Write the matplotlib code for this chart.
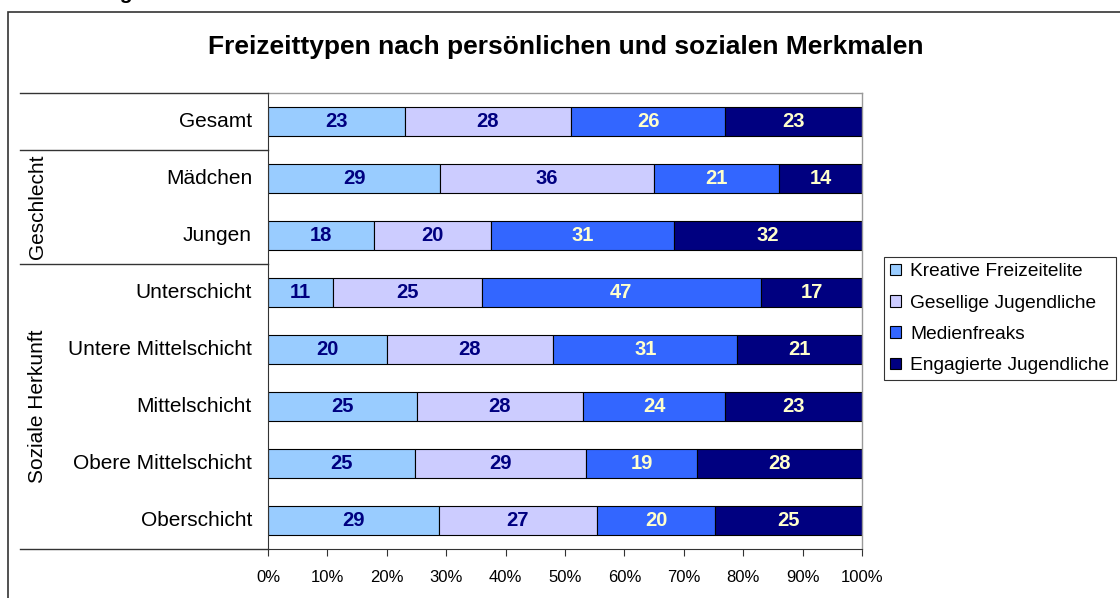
import matplotlib.pyplot as plt
import numpy as np
from matplotlib.lines import Line2D
from matplotlib.patches import Rectangle

plt.rcParams["font.family"] = ["Liberation Sans", "DejaVu Sans"]

W, H = 1120, 598

categories = ["Gesamt", "Mädchen", "Jungen", "Unterschicht", "Untere Mittelschicht",
              "Mittelschicht", "Obere Mittelschicht", "Oberschicht"]
series = ["Kreative Freizeitelite", "Gesellige Jugendliche", "Medienfreaks",
          "Engagierte Jugendliche"]
kreative = [23, 29, 18, 11, 20, 25, 25, 29]
gesellige = [28, 36, 20, 25, 28, 28, 29, 27]
medien = [26, 21, 31, 47, 31, 24, 19, 20]
engagierte = [23, 14, 32, 17, 21, 23, 28, 25]
groups = [("Geschlecht", 1, 2), ("Soziale Herkunft", 3, 7)]

colors = ["#99CCFF", "#CCCCFF", "#3366FF", "#000080"]
text_colors = ["#000080", "#000080", "#FFFFCC", "#FFFFCC"]


def fx(px):
    return px / W


def fy(py):
    return 1 - py / H


fig = plt.figure(figsize=(W / 100, H / 100), dpi=100)

# outer chart frame (continues beyond the right/bottom edge)
fig.add_artist(Rectangle((fx(8), fy(640)), fx(1200), fy(12) - fy(640),
                         transform=fig.transFigure, fill=False, lw=1.2, ec="#333333"))
# caption above the frame, only its descender is still visible
fig.text(fx(133), fy(-1), "Abbildung", fontsize=15, fontweight="bold", ha="right",
         va="baseline")

ax_left, ax_top, ax_right, ax_bottom = 268, 93, 862, 549
ax = fig.add_axes([fx(ax_left), fy(ax_bottom), fx(ax_right - ax_left),
                   fy(ax_top) - fy(ax_bottom)])

data = np.array([kreative, gesellige, medien, engagierte], dtype=float)
shares = data / data.sum(axis=0) * 100
y = np.arange(len(categories))
left = np.zeros(len(categories))
for i, name in enumerate(series):
    ax.barh(y, shares[i], left=left, height=0.52, color=colors[i], edgecolor="black",
            linewidth=0.8, label=name)
    for j in range(len(categories)):
        ax.text(left[j] + shares[i][j] / 2, y[j], f"{int(data[i][j])}", ha="center",
                va="center", fontsize=14.5, fontweight="bold", color=text_colors[i])
    left += shares[i]

ax.set_xlim(0, 100)
ax.set_ylim(len(categories) - 0.5, -0.5)
ax.set_xticks(np.arange(0, 101, 10))
ax.set_xticklabels([f"{v}%" for v in range(0, 101, 10)], fontsize=12)
ax.set_yticks([])
ax.tick_params(axis="x", length=5, width=0.8, color="#333333", pad=10)
for side in ["top", "right"]:
    ax.spines[side].set_color("#999999")
    ax.spines[side].set_linewidth(1.0)
ax.spines["left"].set_color("#333333")
ax.spines["bottom"].set_color("#333333")

# category labels and grouping table on the left
step = (ax_bottom - ax_top) / len(categories)
for j, cat in enumerate(categories):
    fig.text(fx(252), fy(ax_top + step * (j + 0.5)), cat, ha="right", va="center",
             fontsize=15)
for py in [ax_top, ax_top + step, ax_top + 3 * step, ax_bottom]:
    fig.add_artist(Line2D([fx(20), fx(ax_left)], [fy(py), fy(py)],
                          transform=fig.transFigure, color="#333333", lw=1.0))
for name, a, b in groups:
    mid = ax_top + step * (a + b + 1) / 2
    fig.text(fx(38), fy(mid), name, rotation=90, ha="center", va="center", fontsize=15)

fig.text(fx(566), fy(47), "Freizeittypen nach persönlichen und sozialen Merkmalen",
         ha="center", va="center", fontsize=19, fontweight="bold")

leg = fig.legend(loc="upper left", bbox_to_anchor=(fx(884), fy(257)), fontsize=13.8,
                 frameon=True, fancybox=False, edgecolor="black", handlelength=0.55,
                 handleheight=0.55, handletextpad=0.5, labelspacing=0.75,
                 borderpad=0.32, borderaxespad=0)
leg.get_frame().set_linewidth(0.8)

fig.savefig("out.png", dpi=100)
